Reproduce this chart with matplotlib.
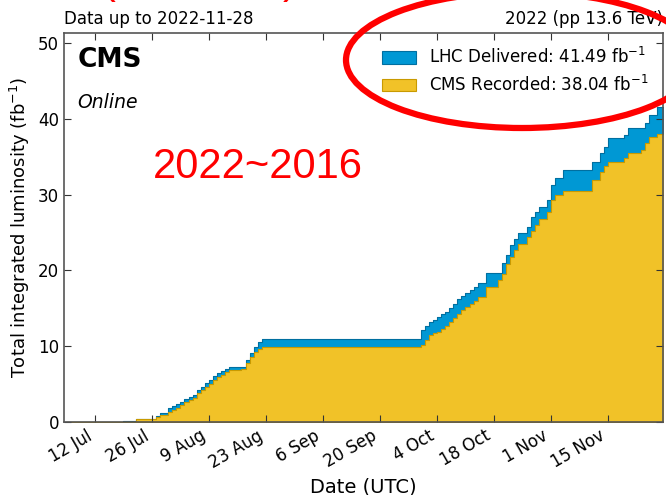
import numpy as np
import matplotlib
matplotlib.use("Agg")
import matplotlib.pyplot as plt
from matplotlib.patches import Ellipse
from matplotlib.transforms import IdentityTransform

# cumulative luminosity, 2022 pp run (fb^-1)
dates = ["2022-07-05", "2022-07-19", "2022-07-22", "2022-07-27", "2022-07-28",
         "2022-07-30", "2022-07-31", "2022-08-01", "2022-08-02", "2022-08-03",
         "2022-08-04", "2022-08-05", "2022-08-06", "2022-08-07", "2022-08-08",
         "2022-08-09", "2022-08-10", "2022-08-11", "2022-08-12", "2022-08-13",
         "2022-08-14", "2022-08-17", "2022-08-18", "2022-08-19", "2022-08-20",
         "2022-08-21", "2022-08-22", "2022-09-30", "2022-10-01", "2022-10-02",
         "2022-10-03", "2022-10-04", "2022-10-05", "2022-10-06", "2022-10-07",
         "2022-10-08", "2022-10-09", "2022-10-10", "2022-10-11", "2022-10-12",
         "2022-10-13", "2022-10-14", "2022-10-16", "2022-10-19", "2022-10-20",
         "2022-10-21", "2022-10-22", "2022-10-23", "2022-10-24", "2022-10-26",
         "2022-10-27", "2022-10-28", "2022-10-29", "2022-10-31", "2022-11-01",
         "2022-11-02", "2022-11-04", "2022-11-11", "2022-11-13", "2022-11-14",
         "2022-11-15", "2022-11-19", "2022-11-20", "2022-11-23", "2022-11-24",
         "2022-11-25", "2022-11-27", "2022-11-29"]

delivered = [0.0, 0.1, 0.45, 0.75, 1.2,
             1.8, 2.1, 2.4, 2.7, 3.0,
             3.3, 3.6, 4.2, 4.6, 5.1,
             5.5, 6.0, 6.4, 6.7, 7.0,
             7.3, 7.3, 8.2, 9.1, 9.9,
             10.6, 11.0, 12.1, 12.6, 13.2,
             13.5, 13.9, 14.2, 14.5, 15.0,
             15.6, 16.2, 16.6, 17.0, 17.4,
             17.8, 18.3, 19.6, 19.6, 21.0,
             22.0, 23.3, 24.1, 24.9, 25.7,
             27.0, 27.7, 28.4, 29.3, 31.3,
             32.2, 33.2, 34.3, 35.5, 36.3,
             37.5, 37.9, 38.8, 38.8, 39.4,
             40.5, 41.49, 41.49]

recorded = [0.0, 0.05, 0.35, 0.6, 0.9,
            1.3, 1.6, 1.9, 2.2, 2.6,
            2.9, 3.2, 3.8, 4.2, 4.6,
            5.0, 5.5, 5.9, 6.2, 6.6,
            6.9, 7.0, 7.8, 8.6, 9.2,
            9.6, 9.9, 10.2, 10.8, 11.5,
            11.7, 11.9, 12.2, 12.6, 13.2,
            13.7, 14.3, 14.8, 15.2, 15.6,
            16.0, 16.5, 17.8, 18.7, 19.5,
            20.9, 21.8, 22.7, 23.5, 24.4,
            25.2, 26.0, 26.8, 27.7, 29.3,
            30.0, 30.4, 31.9, 33.0, 33.7,
            34.3, 34.8, 35.5, 35.9, 36.8,
            37.6, 38.04, 38.04]

tick_dates = ["2022-07-12", "2022-07-26", "2022-08-09", "2022-08-23", "2022-09-06",
              "2022-09-20", "2022-10-04", "2022-10-18", "2022-11-01", "2022-11-15"]
tick_labels = ["12 Jul", "26 Jul", "9 Aug", "23 Aug", "6 Sep",
               "20 Sep", "4 Oct", "18 Oct", "1 Nov", "15 Nov"]

x = np.array(dates, dtype="datetime64[D]")
ticks = np.array(tick_dates, dtype="datetime64[D]")

blue = "#0098d4"
blue_edge = "#006fa0"
gold = "#f1c228"
gold_edge = "#c99a00"

fig = plt.figure(figsize=(6.66, 4.95), dpi=100)
ax = fig.add_axes([0.0961, 0.1475, 0.8994, 0.7858])

ax.fill_between(x, 0, delivered, step="post", facecolor=blue, edgecolor=blue_edge,
                linewidth=0.8, label=f"LHC Delivered: {delivered[-1]:.2f} fb$^{{-1}}$")
ax.fill_between(x, 0, recorded, step="post", facecolor=gold, edgecolor=gold_edge,
                linewidth=0.8, label=f"CMS Recorded: {recorded[-1]:.2f} fb$^{{-1}}$")

ax.set_xlim(np.datetime64("2022-07-04T10"), np.datetime64("2022-11-28T12"))
ax.set_ylim(0, 51.3)
ax.set_xticks(ticks)
ax.set_xticklabels(tick_labels, rotation=30, ha="right", fontsize=12)
ax.set_yticks([0, 10, 20, 30, 40, 50])
ax.tick_params(axis="y", labelsize=12)
ax.tick_params(direction="in", top=True, right=True, length=5, color="#333333")
for s in ax.spines.values():
    s.set_color("#555555")
    s.set_linewidth(1.2)

ax.set_xlabel("Date (UTC)", fontsize=14)
ax.set_ylabel("Total integrated luminosity (fb$^{-1}$)", fontsize=13)

ax.text(0.022, 0.965, "CMS", transform=ax.transAxes, fontsize=19,
        fontweight="bold", va="top", ha="left")
ax.text(0.022, 0.845, "Online", transform=ax.transAxes, fontsize=13.5,
        style="italic", va="top", ha="left")

ax.text(0.0, 1.012, "Data up to 2022-11-28", transform=ax.transAxes,
        fontsize=12, ha="left", va="bottom")
ax.text(1.0, 1.012, "2022 (pp 13.6 TeV)", transform=ax.transAxes,
        fontsize=12, ha="right", va="bottom")

leg = ax.legend(loc="upper right", frameon=False, fontsize=12,
                handlelength=2.05, handleheight=0.75, labelspacing=0.45,
                handletextpad=0.8, borderaxespad=0.45)

# red markup on top of the plot
fig.text(0.2297, 0.6404, "2022~2016", color="red", fontsize=30,
         family="Liberation Sans", ha="left", va="baseline")
fig.text(0.1525, 1.015, "(", color="red", fontsize=30, family="Liberation Sans",
         ha="left", va="baseline")
fig.text(0.425, 1.015, ")", color="red", fontsize=30, family="Liberation Sans",
         ha="left", va="baseline")
ring = Ellipse((522, 435), 352, 136, angle=0, fill=False, edgecolor="red",
               linewidth=4.5, transform=IdentityTransform())
fig.patches.append(ring)

fig.savefig("out.png", dpi=100)
